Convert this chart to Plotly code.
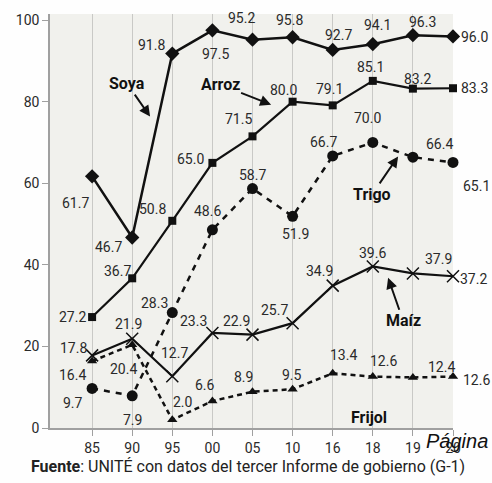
import plotly.graph_objects as go

years = ["85", "90", "95", "00", "05", "10", "16", "18", "19", "20"]
soya = [61.7, 46.7, 91.8, 97.5, 95.2, 95.8, 92.7, 94.1, 96.3, 96.0]
arroz = [27.2, 36.7, 50.8, 65.0, 71.5, 80.0, 79.1, 85.1, 83.2, 83.3]
trigo = [9.7, 7.9, 28.3, 48.6, 58.7, 51.9, 66.7, 70.0, 66.4, 65.1]
maiz = [17.8, 21.9, 12.7, 23.3, 22.9, 25.7, 34.9, 39.6, 37.9, 37.2]
frijol = [16.4, 20.4, 2.0, 6.6, 8.9, 9.5, 13.4, 12.6, 12.4, 12.6]
y_ticks = [0, 20, 40, 60, 80, 100]

xi = list(range(len(years)))
FONT = "Roboto, Liberation Sans, sans-serif"

# label offsets in pixels (dx, dy down)
off_soya = [(-17, 27), (-24, 9), (-21, -9), (3, 24), (-11, -22), (-3, -17), (6, -15), (5, -19), (10, -13), (21, 1)]
off_arroz = [(-20, 0), (-15, -7), (-20, -12), (-22, -4), (-14, -17), (-9, -12), (-3, -16), (-2, -14), (5, -10), (21, 0)]
off_trigo = [(-19, 15), (0, 24), (-18, -10), (-5, -19), (0, -14), (3, 18), (-9, -14), (-5, -24), (27, -13), (23, 24)]
off_maiz = [(-19, -7), (-4, -15), (2, -23), (-19, -12), (-16, -14), (-18, -13), (-13, -15), (0, -13), (26, -14), (20, 3)]
off_frijol = [(-20, 14), (-9, 24), (11, -18), (-7, -16), (-9, -15), (-1, -14), (11, -18), (11, -16), (29, -10), (23, 3)]

fig = go.Figure()

series = [
    ("Soya", soya, dict(symbol="diamond", size=11), dict(width=2.5), off_soya),
    ("Arroz", arroz, dict(symbol="square", size=8), dict(width=2.2), off_arroz),
    ("Trigo", trigo, dict(symbol="circle", size=11), dict(width=2.5, dash="6px,6px"), off_trigo),
    ("Maíz", maiz, dict(symbol="x-thin", size=12, line=dict(width=1.5, color="#111")), dict(width=2.2), off_maiz),
    ("Frijol", frijol, dict(symbol="triangle-up", size=9), dict(width=2.5, dash="5px,4px"), off_frijol),
]

annotations = []
for name, vals, mk, ln, offs in series:
    fig.add_trace(go.Scatter(
        x=xi, y=vals, mode="lines+markers", name=name,
        line=dict(color="#111", **ln),
        marker=dict(color="#111", **mk),
        cliponaxis=False, showlegend=False,
    ))
    for i, v in enumerate(vals):
        dx, dy = offs[i]
        annotations.append(dict(
            x=i, y=v, xref="x", yref="y", text=f"{v:.1f}", showarrow=False,
            xshift=dx, yshift=-dy, font=dict(family=FONT, size=14, color="#2a2a2a"),
        ))


def px2x(px):
    return (px - 92) / 40.1


def px2y(py):
    return (428 - py) / 4.1


name_labels = [
    ("Soya", (150, 115), (127, 82), True),
    ("Arroz", (271, 103), (220, 83), True),
    ("Trigo", (398, 155), (372, 193), True),
    ("Maíz", (388, 277), (403, 320), True),
    ("Frijol", None, (369, 417), False),
]
for txt, tip, ctr, arrow in name_labels:
    if arrow:
        annotations.append(dict(
            x=px2x(tip[0]), y=px2y(tip[1]), xref="x", yref="y",
            text=f"<b>{txt}</b>", showarrow=True, ax=ctr[0] - tip[0], ay=ctr[1] - tip[1],
            arrowhead=2, arrowsize=1.1, arrowwidth=2, arrowcolor="#111", standoff=0,
            font=dict(family=FONT, size=16, color="#111"),
        ))
    else:
        annotations.append(dict(
            x=px2x(ctr[0]), y=px2y(ctr[1]), xref="x", yref="y",
            text=f"<b>{txt}</b>", showarrow=False,
            font=dict(family=FONT, size=16, color="#111"),
        ))

pw = 492 - 50 - 39
ph = 483 - 12 - 55
annotations.append(dict(
    x=(248 - 50) / pw, y=(428 - 467) / ph, xref="paper", yref="paper",
    xanchor="center", yanchor="middle",
    text="<b>Fuente</b>: UNITÉ con datos del tercer Informe de gobierno (G-1)", showarrow=False,
    font=dict(family=FONT, size=16, color="#222"),
))
annotations.append(dict(
    x=(457 - 50) / pw, y=(428 - 441) / ph, xref="paper", yref="paper",
    xanchor="center", yanchor="middle", showarrow=False,
    text="<i>Página</i>", font=dict(family="Liberation Sans, Arial, sans-serif", size=20, color="#111"),
))

fig.update_layout(
    width=492, height=483,
    margin=dict(l=50, r=39, t=12, b=55),
    paper_bgcolor="#fefefe",
    plot_bgcolor="#f1f1ed",
    annotations=annotations,
    font=dict(family=FONT, size=14, color="#2a2a2a"),
    xaxis=dict(
        range=[-1.05, 9.0], tickvals=xi, ticktext=years,
        showgrid=True, gridcolor="#c9c9c6", gridwidth=1,
        showline=True, linecolor="#a0a0a0", linewidth=1.5,
        ticks="outside", ticklen=6, tickcolor="#a0a0a0",
        tickfont=dict(family=FONT, size=14, color="#2a2a2a"),
        zeroline=False, fixedrange=True,
    ),
    yaxis=dict(
        range=[0, 101.5], tickvals=y_ticks,
        showgrid=False,
        showline=True, linecolor="#a0a0a0", linewidth=1.5,
        ticks="outside", ticklen=6, tickcolor="#a0a0a0",
        tickfont=dict(family=FONT, size=14, color="#2a2a2a"),
        zeroline=False, fixedrange=True,
    ),
)

fig.write_html(
    "out.html",
    config={"displayModeBar": False},
    post_script="document.body.style.margin='0';document.body.style.overflow='hidden';",
)
